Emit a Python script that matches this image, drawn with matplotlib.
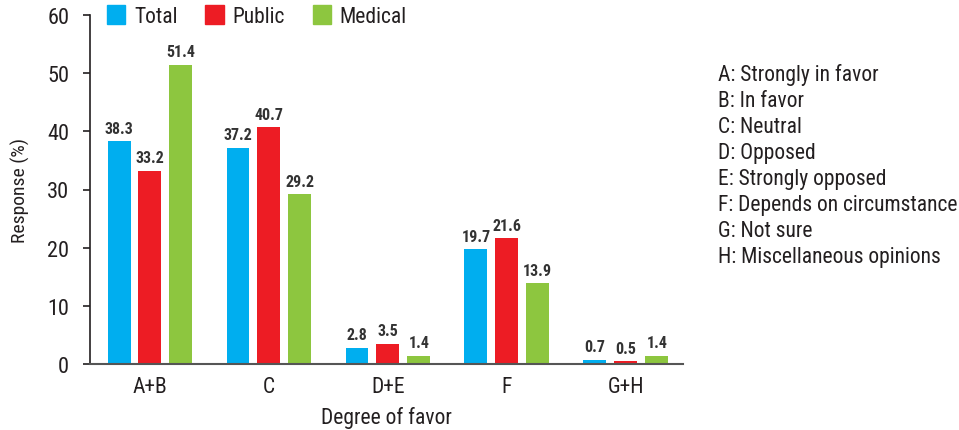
import numpy as np
import matplotlib
matplotlib.use("Agg")
import matplotlib.pyplot as plt
from matplotlib.patches import Patch

plt.rcParams['font.family'] = ['DejaVu Sans Condensed', 'Roboto Condensed', 'Lato', 'DejaVu Sans']

# Données
categories = ["A+B", "C", "D+E", "F", "G+H"]
total = [38.3, 37.2, 2.8, 19.7, 0.7]
public = [33.2, 40.7, 3.5, 21.6, 0.5]
medical = [51.4, 29.2, 1.4, 13.9, 1.4]
series_names = ["Total", "Public", "Medical"]
colors = ["#00AEEF", "#ED1C24", "#8DC63F"]
key_lines = ["A: Strongly in favor", "B: In favor", "C: Neutral", "D: Opposed",
             "E: Strongly opposed", "F: Depends on circumstance", "G: Not sure",
             "H: Miscellaneous opinions"]

txt = "#231F20"
fig = plt.figure(figsize=(9.59, 4.31), dpi=100)
ax = fig.add_axes([90/959, 1 - 365/431, 593/959, 349/431])

x = np.arange(len(categories))
w = 0.193
off = 0.26
for i, (vals, c) in enumerate(zip([total, public, medical], colors)):
    pos = x + (i - 1) * off
    bars = ax.bar(pos, vals, width=w, color=c, zorder=2)
    for b, v in zip(bars, vals):
        ax.annotate(f"{v}", (b.get_x() + b.get_width()/2, v), xytext=(0, 4),
                    textcoords="offset points", ha="center", va="bottom",
                    fontsize=11.5, fontweight="bold", color="#333333")

ax.set_xlim(-0.504, 4.48)
ax.set_ylim(0, 60)
ax.set_yticks(range(0, 61, 10))
ax.set_xticks(x)
ax.set_xticklabels(categories)
ax.tick_params(axis="x", length=0, pad=9, labelsize=15.5, colors=txt)
ax.tick_params(axis="y", length=5, width=1.2, direction="out", pad=10, labelsize=16, colors=txt)
for s in ["top", "right"]:
    ax.spines[s].set_visible(False)
ax.spines["left"].set_linewidth(1.2)
ax.spines["bottom"].set_linewidth(1.5)
ax.spines["left"].set_color("#231F20")
ax.spines["bottom"].set_color("#555555")
ax.set_ylabel("Response (%)", fontsize=14, color=txt, labelpad=12)
ax.set_xlabel("Degree of favor", fontsize=15.5, color=txt, labelpad=6)

handles = [Patch(color=c, label=n) for c, n in zip(colors, series_names)]
fig.legend(handles=handles, loc="center left", bbox_to_anchor=(107/959, 1 - 17/431),
           ncol=3, frameon=False, fontsize=15.5, handlelength=0.85, handleheight=1.0,
           handletextpad=0.4, columnspacing=1.3, borderpad=0, borderaxespad=0,
           labelcolor=txt)

for k, line in enumerate(key_lines):
    fig.text(718/959, 1 - (75 + k * 26.1)/431, line, fontsize=15.5, color=txt,
             ha="left", va="center")

fig.savefig("out.png", dpi=100)
